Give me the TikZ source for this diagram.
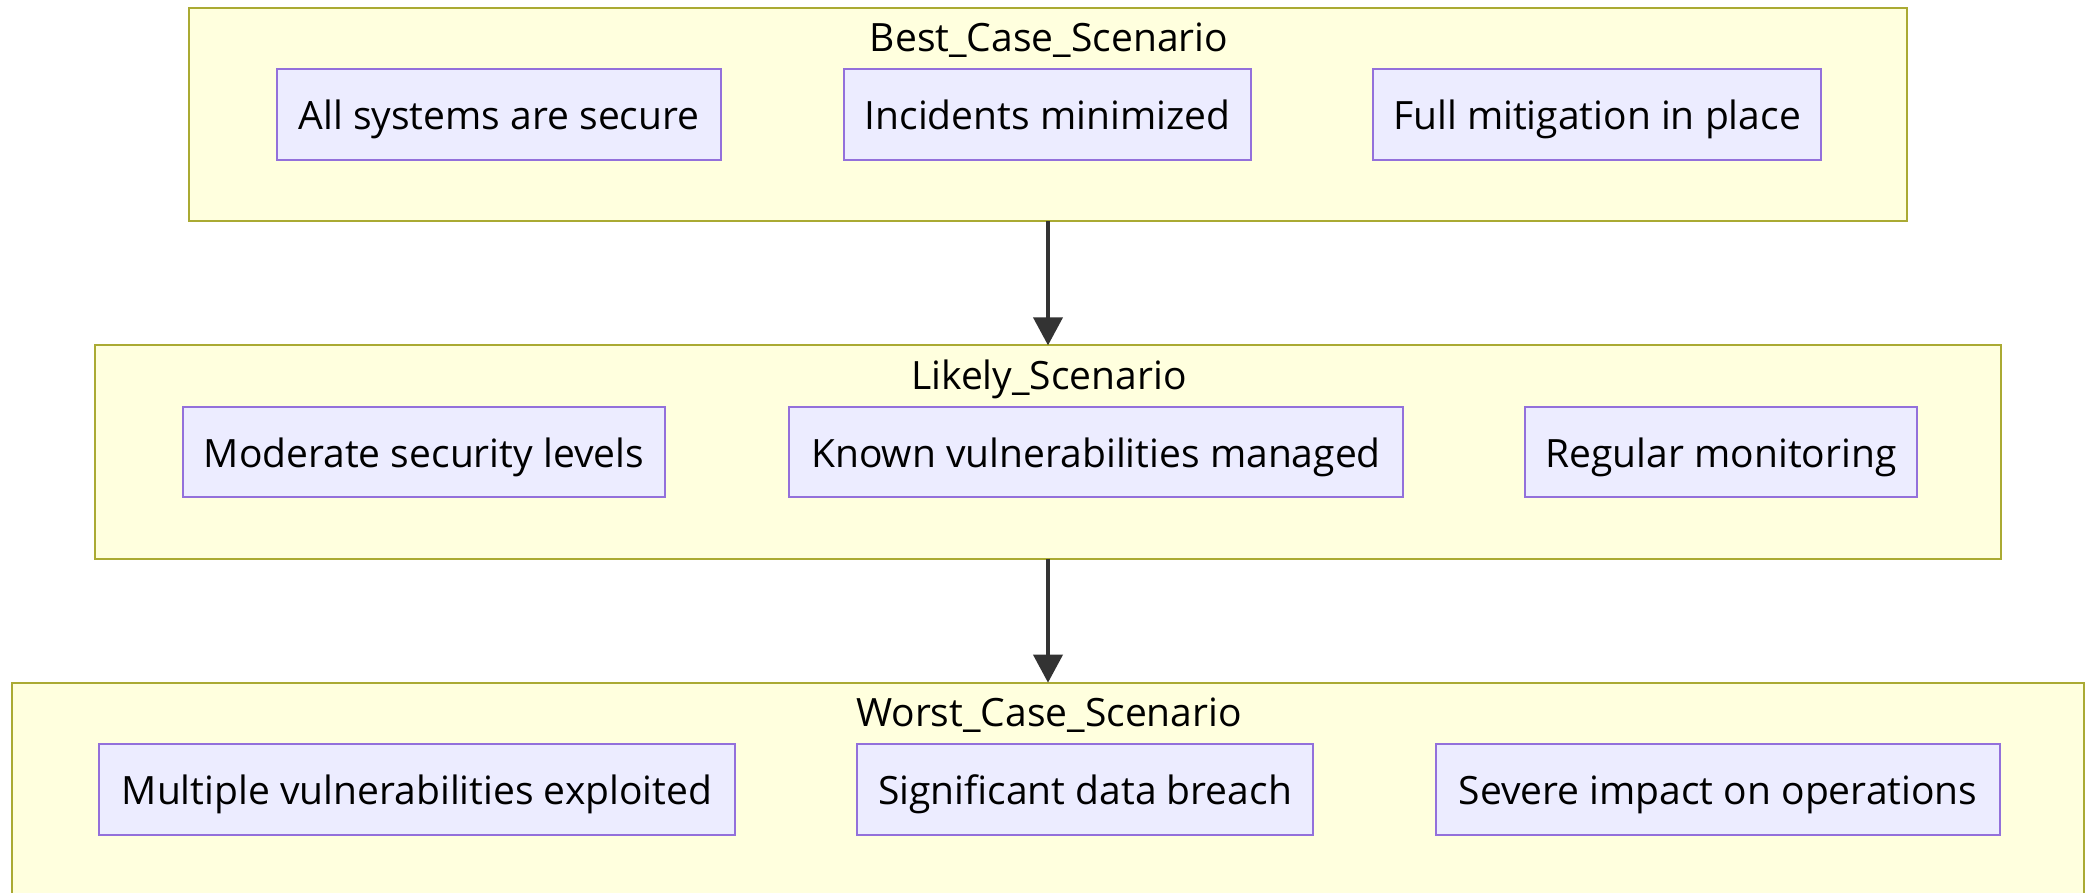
\documentclass[tikz,border=0pt]{standalone}
\usepackage{fontspec}
\setmainfont{Open Sans}
\usetikzlibrary{arrows.meta}
\definecolor{clfill}{HTML}{FFFFDE}
\definecolor{cldraw}{HTML}{AAAA33}
\definecolor{ndfill}{HTML}{ECECFF}
\definecolor{nddraw}{HTML}{9370DB}
\definecolor{arr}{HTML}{333333}
\begin{document}
\begin{tikzpicture}[x=1pt,y=-1pt,
 cluster/.style={draw=cldraw,fill=clfill,line width=2pt,inner sep=0pt,outer sep=0pt,minimum height=213.3pt},
 item/.style={draw=nddraw,fill=ndfill,line width=2pt,inner sep=0pt,minimum height=90.7pt,font=\fontsize{39}{46}\selectfont,text height=34.6pt,text depth=4.4pt},
 ttl/.style={font=\fontsize{39}{46}\selectfont,inner sep=0pt,text height=34.6pt,text depth=4.4pt},
 flow/.style={draw=arr,line width=4pt,-{Triangle[length=28pt,width=29pt]}}]
\useasboundingbox (0,0) rectangle (2090,892);
\fill[white] (0,0) rectangle (2090,892);
% clusters
\node[cluster,minimum width=1718.6pt] (best) at (1048,114.7) {};
\node[cluster,minimum width=1906.7pt] (likely) at (1048,452) {};
\node[cluster,minimum width=2072pt] (worst) at (1048,789.3) {};
% titles
\node[ttl] (tbest) at (1049,36) {Best\_Case\_Scenario};
\node[ttl] (tlikely) at (1049,374) {Likely\_Scenario};
\node[ttl] (tworst) at (1049,711) {Worst\_Case\_Scenario};
% top row
\node[item,minimum width=444pt] (b1) at (499,114.7) {All systems are secure};
\node[item,minimum width=407pt] (b2) at (1047.5,114.7) {Incidents minimized};
\node[item,minimum width=448pt] (b3) at (1597,114.7) {Full mitigation in place};
% middle row
\node[item,minimum width=482pt] (l1) at (424,452) {Moderate security levels};
\node[item,minimum width=614pt] (l2) at (1096,452) {Known vulnerabilities managed};
\node[item,minimum width=392pt] (l3) at (1721,452) {Regular monitoring};
% bottom row
\node[item,minimum width=636pt] (w1) at (417,789.3) {Multiple vulnerabilities exploited};
\node[item,minimum width=456pt] (w2) at (1085,789.3) {Significant data breach};
\node[item,minimum width=564pt] (w3) at (1718,789.3) {Severe impact on operations};
% connectors
\draw[flow] (best.south) -- (likely.north);
\draw[flow] (likely.south) -- (worst.north);
\end{tikzpicture}
\end{document}
